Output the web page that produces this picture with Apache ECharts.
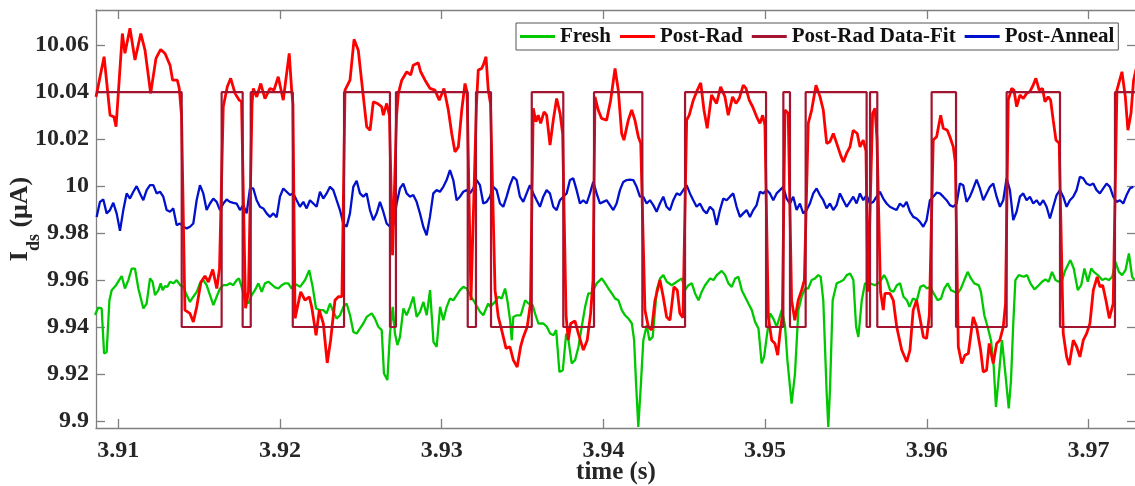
<!DOCTYPE html>
<html>
<head>
<meta charset="utf-8">
<script src="https://cdn.jsdelivr.net/npm/echarts@6/dist/echarts.min.js"></script>
<style>
  html, body { margin: 0; padding: 0; background: #fff; }
  #chart { width: 1135px; height: 486px; }
</style>
</head>
<body>
<div id="chart"></div>
<script>
// tick labels
const xTicks = [3.91, 3.92, 3.93, 3.94, 3.95, 3.96, 3.97];
const yTicks = [9.9, 9.92, 9.94, 9.96, 9.98, 10, 10.02, 10.04, 10.06];

// Post-Anneal: read every 0.000206 s from the picture
const annealStart = 3.90866;
const annealStep = 0.00020614;
const annealValues = [
  9.9869, 9.9933, 9.9943, 9.9884, 9.9898, 9.9929, 9.9884, 9.981, 9.9898, 9.9969,
  9.9947, 9.9976, 10.0, 9.9969, 9.994, 9.9983, 10.0004, 10.0004, 9.9969, 9.9976,
  9.9955, 9.9898, 9.9891, 9.9905, 9.9834, 9.9841, 9.9827, 9.982, 9.9827, 9.9841,
  9.994, 10.0004, 9.9969, 9.9898, 9.9926, 9.9947, 9.9933, 9.9898, 9.9926, 9.9943,
  9.9933, 9.9929, 9.9926, 9.9898, 9.9919, 9.9884, 9.999, 9.999, 9.994, 9.9912,
  9.9905, 9.9884, 9.9869, 9.9884, 9.9867, 9.9955, 9.999, 9.9976, 9.9962, 9.9969,
  9.994, 9.9912, 9.9933, 9.9905, 9.994, 9.9926, 9.9912, 9.9976, 9.9947, 9.9969,
  9.9997, 9.9983, 9.994, 9.9898, 9.9841, 9.9827, 9.9884, 9.9997, 10.0023, 9.9969,
  9.9955, 9.9969, 9.9898, 9.9855, 9.9884, 9.9933, 9.9891, 9.9841, 9.9827, 9.9834,
  9.9926, 9.999, 10.0011, 9.9969, 9.9955, 9.9962, 9.9933, 9.9884, 9.9827, 9.9791,
  9.9869, 9.9969, 9.9983, 9.9976, 9.9997, 10.0026, 10.0068, 10.0026, 9.994, 9.9955,
  9.9976, 9.9983, 9.9969, 9.999, 10.0026, 10.0004, 9.9926, 9.9933, 9.9955, 9.9997,
  9.9983, 9.9926, 9.9912, 9.9955, 10.0004, 10.004, 10.0026, 9.9955, 9.9933, 9.9969,
  10.0004, 9.9969, 9.994, 9.9912, 9.9955, 9.9983, 9.9969, 9.9912, 9.9898, 9.994,
  9.9955, 9.9969, 10.0026, 10.0033, 9.9983, 9.9926, 9.994, 9.9926, 9.9969, 10.0018,
  9.9969, 9.9926, 9.9933, 9.994, 9.9919, 9.9898, 9.9926, 9.9983, 10.0018, 10.0026,
  10.0028, 10.0026, 9.9997, 9.9955, 9.9955, 9.9926, 9.994, 9.9919, 9.9891, 9.9926,
  9.9955, 9.9912, 9.9898, 9.994, 9.9969, 9.9962, 9.9983, 10.0004, 9.9969, 9.994,
  9.9912, 9.9926, 9.9898, 9.9884, 9.9912, 9.9898, 9.9834, 9.9898, 9.9947, 9.994,
  9.9955, 9.9969, 9.9912, 9.9869, 9.9884, 9.9898, 9.9869, 9.9898, 9.9919, 9.9976,
  9.9969, 9.9983, 9.9969, 9.994, 9.9969, 9.9983, 9.9997, 9.9947, 9.9926, 9.9955,
  9.9898, 9.9926, 9.9884, 9.9898, 9.9926, 9.9969, 9.999, 9.9962, 9.994, 9.9905,
  9.9926, 9.9898, 9.9919, 9.9969, 9.994, 9.9912, 9.9933, 9.9955, 9.9926, 9.9969,
  9.994, 9.9962, 9.9926, 9.9933, 9.9955, 9.9976, 9.9947, 9.9926, 9.9912, 9.9905,
  9.9898, 9.9926, 9.9912, 9.9933, 9.9891, 9.9869, 9.9862, 9.9848, 9.9827, 9.9855,
  9.994, 9.9955, 9.9972, 9.9969, 9.9955, 9.994, 9.9919, 9.9912, 9.9926, 10.0011,
  10.0004, 9.9933, 9.9955, 9.999, 10.0028, 9.999, 9.994, 9.9969, 9.9997, 10.0011,
  9.9955, 9.9912, 9.994, 10.0033, 9.9983, 9.9855, 9.9891, 9.9955, 9.9969, 9.994,
  9.9955, 9.9926, 9.994, 9.9919, 9.994, 9.9912, 9.9862, 9.9912, 9.9962, 9.9983,
  9.9955, 9.9912, 9.994, 9.9955, 9.9983, 10.004, 10.0033, 10.0011, 10.0004, 10.0011,
  9.9983, 9.9969, 9.999, 10.0011, 9.9997, 9.9955, 9.9933, 9.994, 9.9926, 9.9962,
  9.999, 9.9997
];

// Fresh: [time, value]
const freshData = [
  [3.90856,9.9451],[3.90876,9.9483],[3.90897,9.9479],[3.90912,9.9287],[3.90928,9.9294],[3.90945,9.9514],
  [3.90959,9.9557],[3.90986,9.9578],[3.91021,9.9617],[3.91041,9.9564],[3.91062,9.96],[3.91083,9.9649],
  [3.91103,9.9649],[3.91124,9.9564],[3.91155,9.9479],[3.91175,9.95],[3.91196,9.9607],[3.91212,9.9593],
  [3.91227,9.9536],[3.91248,9.9557],[3.91262,9.9586],[3.91274,9.9557],[3.91289,9.9574],[3.91303,9.9571],
  [3.9132,9.9593],[3.9134,9.9586],[3.91361,9.96],[3.91382,9.9578],[3.91402,9.9571],[3.91423,9.9536],
  [3.91443,9.9507],[3.91464,9.9529],[3.91485,9.955],[3.91505,9.9586],[3.91526,9.96],[3.91546,9.9578],
  [3.91567,9.9536],[3.91588,9.9493],[3.91608,9.9529],[3.91629,9.9564],[3.91649,9.9578],[3.9167,9.9578],
  [3.91691,9.9586],[3.91711,9.9578],[3.91732,9.96],[3.91746,9.9607],[3.91763,9.9571],[3.91783,9.9514],
  [3.91804,9.95],[3.91825,9.9536],[3.91845,9.9557],[3.91866,9.9586],[3.91887,9.955],[3.91907,9.9586],
  [3.91928,9.9593],[3.91969,9.9569],[3.9199,9.9564],[3.9201,9.9578],[3.92031,9.9586],[3.92051,9.9586],
  [3.92072,9.9564],[3.92087,9.9586],[3.92124,9.9571],[3.92155,9.96],[3.92181,9.9642],[3.92202,9.9571],
  [3.92223,9.9479],[3.92247,9.9472],[3.92268,9.9472],[3.92288,9.9458],[3.92309,9.95],[3.9233,9.9465],
  [3.9235,9.9436],[3.92371,9.945],[3.92392,9.9486],[3.92412,9.95],[3.92433,9.945],[3.92454,9.9379],
  [3.92474,9.9372],[3.92495,9.9394],[3.92515,9.9415],[3.92536,9.9443],[3.92567,9.9458],[3.92587,9.9436],
  [3.92608,9.9401],[3.92629,9.9387],[3.92643,9.9202],[3.92664,9.9174],[3.9268,9.9372],[3.92697,9.9486],
  [3.92711,9.9372],[3.92726,9.9323],[3.92742,9.9358],[3.92763,9.9479],[3.92783,9.945],[3.92804,9.9486],
  [3.92825,9.9529],[3.92845,9.9443],[3.92866,9.9465],[3.92887,9.9507],[3.92907,9.945],[3.92928,9.9557],
  [3.92949,9.9337],[3.92969,9.9316],[3.9299,9.9486],[3.9301,9.9429],[3.93031,9.9486],[3.93051,9.9521],
  [3.93072,9.9514],[3.93093,9.9536],[3.93113,9.9557],[3.93134,9.9571],[3.93155,9.9564],[3.93175,9.9536],
  [3.93196,9.9514],[3.93237,9.9465],[3.93257,9.945],[3.93288,9.95],[3.93299,9.9486],[3.9333,9.9507],
  [3.93351,9.9529],[3.93371,9.9521],[3.93392,9.9564],[3.93406,9.9514],[3.93423,9.9429],[3.93433,9.9344],
  [3.93443,9.9443],[3.93464,9.945],[3.93489,9.945],[3.93516,9.9514],[3.93536,9.95],[3.93563,9.9493],
  [3.93577,9.9458],[3.93598,9.9415],[3.93629,9.9415],[3.9365,9.9401],[3.93671,9.9372],[3.93691,9.9365],
  [3.93708,9.9387],[3.93728,9.9209],[3.93749,9.9216],[3.9377,9.9372],[3.93784,9.9344],[3.93804,9.9245],
  [3.93825,9.9259],[3.93846,9.9316],[3.93866,9.9401],[3.93887,9.9486],[3.93907,9.9543],[3.93928,9.9543],
  [3.93959,9.9586],[3.9399,9.9607],[3.94011,9.9586],[3.94031,9.9564],[3.94052,9.9543],[3.94073,9.9521],
  [3.94093,9.9514],[3.94114,9.9472],[3.94134,9.945],[3.94155,9.9436],[3.94176,9.9415],[3.9419,9.9344],
  [3.94202,9.916],[3.94216,9.8975],[3.94231,9.9145],[3.94247,9.9344],[3.94268,9.9408],[3.94285,9.9344],
  [3.94305,9.9358],[3.9433,9.9557],[3.94351,9.9607],[3.94371,9.9621],[3.94392,9.9593],[3.94423,9.9578],
  [3.94454,9.9593],[3.94485,9.9607],[3.94505,9.9557],[3.94526,9.9578],[3.94547,9.9586],[3.94567,9.9543],
  [3.94588,9.9514],[3.94608,9.955],[3.94629,9.9578],[3.9466,9.9607],[3.94681,9.96],[3.94701,9.9621],
  [3.94732,9.9639],[3.94753,9.9621],[3.94773,9.9586],[3.94794,9.9571],[3.94815,9.9607],[3.94835,9.9614],
  [3.94856,9.9557],[3.94876,9.9529],[3.94897,9.95],[3.94918,9.9472],[3.94938,9.9422],[3.94959,9.9394],
  [3.94979,9.9245],[3.94994,9.9273],[3.9501,9.9358],[3.95031,9.9458],[3.95051,9.9436],[3.95072,9.9401],
  [3.95103,9.9472],[3.95123,9.9408],[3.95138,9.9259],[3.95164,9.9074],[3.95185,9.9202],[3.95206,9.9472],
  [3.95226,9.9529],[3.95247,9.9564],[3.95267,9.9564],[3.95288,9.96],[3.95309,9.9607],[3.95329,9.9621],
  [3.95344,9.9614],[3.9536,9.9514],[3.95381,9.9117],[3.95391,9.8975],[3.95402,9.9145],[3.95418,9.9514],
  [3.95443,9.9586],[3.95464,9.9593],[3.95484,9.96],[3.95505,9.9621],[3.95526,9.9628],[3.95546,9.96],
  [3.95563,9.9401],[3.95577,9.9358],[3.95598,9.9514],[3.95618,9.9586],[3.95649,9.9586],[3.9568,9.9578],
  [3.95711,9.9593],[3.95736,9.9621],[3.95753,9.96],[3.95773,9.9557],[3.95794,9.955],[3.95815,9.9578],
  [3.95835,9.9586],[3.95856,9.9529],[3.95877,9.9514],[3.95893,9.9486],[3.95914,9.9521],[3.95939,9.9514],
  [3.9596,9.9571],[3.95981,9.9578],[3.96001,9.9564],[3.96022,9.9571],[3.96043,9.9543],[3.96067,9.9514],
  [3.96088,9.9521],[3.96108,9.9564],[3.96129,9.9586],[3.9615,9.9557],[3.9617,9.955],[3.96191,9.9543],
  [3.96211,9.9564],[3.96232,9.96],[3.96253,9.9635],[3.96273,9.9607],[3.96294,9.9586],[3.96321,9.9578],
  [3.96335,9.955],[3.96356,9.945],[3.96376,9.9401],[3.96397,9.9344],[3.96414,9.9231],[3.96428,9.906],
  [3.96445,9.9188],[3.96465,9.9344],[3.96486,9.9202],[3.96507,9.9053],[3.96521,9.9174],[3.96534,9.9401],
  [3.96548,9.96],[3.96569,9.9621],[3.966,9.9614],[3.9662,9.9621],[3.96641,9.9586],[3.96666,9.956],
  [3.96693,9.9578],[3.96713,9.9593],[3.96734,9.9603],[3.96754,9.9593],[3.96775,9.9635],[3.96796,9.96],
  [3.96816,9.9593],[3.96837,9.96],[3.96857,9.9642],[3.96888,9.9685],[3.96909,9.9649],[3.96934,9.9557],
  [3.96955,9.9578],[3.96975,9.9649],[3.96996,9.9593],[3.97017,9.9649],[3.97033,9.9635],[3.97058,9.9621],
  [3.97085,9.96],[3.97105,9.9607],[3.97126,9.96],[3.97147,9.9614],[3.97167,9.9677],[3.97188,9.9635],
  [3.97208,9.9621],[3.97229,9.9642],[3.9725,9.9713],[3.9727,9.9614],[3.97285,9.96]
];

// Post-Rad: [time, value]
const postRadData = [
  [3.90862,10.038],[3.90912,10.0551],[3.90949,10.0302],[3.90973,10.0295],[3.90986,10.0253],[3.91025,10.065],
  [3.91041,10.0566],[3.91072,10.0672],[3.91103,10.0537],[3.91139,10.065],[3.91165,10.0579],[3.912,10.0395],
  [3.91233,10.0544],[3.91262,10.0582],[3.91289,10.0565],[3.9132,10.0515],[3.91336,10.0451],[3.91365,10.0451],
  [3.91377,10.0416],[3.91391,10.03],[3.91412,9.9472],[3.91443,9.9458],[3.91464,9.9422],[3.91485,9.9486],
  [3.91511,9.9592],[3.91536,9.9617],[3.91557,9.9592],[3.91584,9.9645],[3.91609,9.9564],[3.91626,9.965],
  [3.91649,10.0338],[3.91674,10.0423],[3.91695,10.0459],[3.91722,10.0395],[3.91748,10.0366],[3.91762,10.036],
  [3.91787,9.948],[3.91805,9.955],[3.91827,10.035],[3.91835,10.0416],[3.91856,10.038],[3.91881,10.0437],
  [3.91907,10.0373],[3.91938,10.0416],[3.91963,10.0409],[3.91989,10.0466],[3.9202,10.0366],[3.92057,10.0565],
  [3.92072,10.0409],[3.9208,10.035],[3.92093,9.9437],[3.92128,9.955],[3.92155,9.9514],[3.92181,9.9529],
  [3.92196,9.9486],[3.92223,9.9365],[3.92243,9.9472],[3.92268,9.9415],[3.92292,9.9247],[3.92313,9.9344],
  [3.9234,9.9514],[3.92361,9.9529],[3.92383,9.953],[3.92402,10.0409],[3.92433,10.0451],[3.92458,10.0625],
  [3.92484,10.0579],[3.92511,10.0409],[3.92536,10.0253],[3.92557,10.0238],[3.92577,10.0359],[3.92602,10.0352],
  [3.92629,10.0338],[3.92639,10.0302],[3.9266,10.0352],[3.92677,10.03],[3.92696,9.9706],[3.92721,10.03],
  [3.92732,10.0395],[3.92753,10.0451],[3.92784,10.0487],[3.92808,10.0473],[3.92824,10.0515],[3.92855,10.0525],
  [3.9287,10.0487],[3.92897,10.0451],[3.92928,10.0416],[3.92958,10.0409],[3.92985,10.0366],[3.93014,10.0416],
  [3.93041,10.0324],[3.93062,10.0224],[3.93082,10.0146],[3.93103,10.0167],[3.93124,10.0324],[3.93144,10.0437],
  [3.93157,10.04],[3.93181,9.9514],[3.93215,10.035],[3.93226,10.0494],[3.93247,10.0501],[3.93257,10.0515],
  [3.93274,10.0551],[3.93288,10.0409],[3.93302,10.035],[3.9333,9.9557],[3.9335,9.9443],[3.93371,9.9387],
  [3.93398,9.9309],[3.93422,9.9316],[3.93443,9.9259],[3.93467,9.923],[3.93488,9.9316],[3.93505,9.9358],
  [3.93529,9.9401],[3.93549,9.95],[3.93566,10.0331],[3.93583,10.0274],[3.93597,10.0302],[3.93612,10.0267],
  [3.93633,10.0316],[3.93649,10.0302],[3.9367,10.0175],[3.9369,10.0281],[3.93711,10.0373],[3.93732,10.031],
  [3.93748,10.0224],[3.93769,9.945],[3.93783,9.9344],[3.93798,9.9415],[3.93824,9.9426],[3.93845,9.9373],
  [3.93876,9.9302],[3.939,9.9344],[3.93921,9.9458],[3.93936,9.96],[3.93948,10.038],[3.93968,10.0324],
  [3.93989,10.0288],[3.9402,10.0281],[3.94045,10.0366],[3.94072,10.0501],[3.94092,10.0409],[3.94113,10.0224],
  [3.94127,10.0196],[3.94154,10.0281],[3.94175,10.0324],[3.94195,10.0281],[3.94216,10.021],[3.94231,10.0182],
  [3.94257,9.9472],[3.94278,9.9401],[3.94298,9.9387],[3.94319,9.9514],[3.9435,9.96],[3.9437,9.9529],
  [3.94391,9.9443],[3.94412,9.9429],[3.94436,9.9571],[3.94457,9.9557],[3.94473,9.9458],[3.94492,9.944],
  [3.94515,10.0281],[3.94531,10.0302],[3.94556,10.0366],[3.94581,10.0409],[3.94602,10.044],[3.94622,10.0324],
  [3.94642,10.0246],[3.94669,10.0388],[3.947,10.0352],[3.94725,10.0423],[3.94752,10.038],[3.94772,10.0302],
  [3.94799,10.038],[3.9482,10.0352],[3.9484,10.0373],[3.94865,10.043],[3.94882,10.0416],[3.94902,10.0366],
  [3.94923,10.0338],[3.94948,10.0295],[3.94968,10.0267],[3.94985,10.0302],[3.94999,10.026],[3.9502,9.9443],
  [3.95041,9.9344],[3.95061,9.933],[3.95078,9.928],[3.95092,9.9373],[3.95107,9.945],[3.95123,10.0324],
  [3.95143,10.031],[3.95164,9.9514],[3.95184,9.9429],[3.95205,9.9514],[3.95226,9.9557],[3.95243,9.96],
  [3.95267,10.0267],[3.95288,10.0324],[3.95315,10.043],[3.9534,10.038],[3.9536,10.0324],[3.95381,10.0182],
  [3.95401,10.0189],[3.95422,10.0224],[3.95443,10.0182],[3.95467,10.0132],[3.95484,10.0103],[3.95504,10.0139],
  [3.95525,10.0167],[3.95545,10.0238],[3.9557,10.0224],[3.95587,10.0167],[3.95607,10.0196],[3.95624,10.015],
  [3.95636,9.955],[3.95665,10.031],[3.9568,10.0331],[3.95692,10.02],[3.95714,9.955],[3.95731,9.9472],
  [3.95741,9.9543],[3.95772,9.9543],[3.95793,9.9514],[3.95814,9.9401],[3.95845,9.9302],[3.95876,9.9252],
  [3.95896,9.9302],[3.95916,9.9472],[3.95937,9.9514],[3.95958,9.9437],[3.95979,9.9358],[3.95999,9.9351],
  [3.96016,9.945],[3.9604,10.0196],[3.96061,10.021],[3.96086,10.0302],[3.96102,10.0246],[3.96127,10.0238],
  [3.96143,10.021],[3.96164,10.0167],[3.96177,10.01],[3.96195,9.9316],[3.96216,9.9245],[3.96236,9.928],
  [3.96257,9.9287],[3.96287,9.9443],[3.96308,9.9401],[3.96333,9.9302],[3.96349,9.9209],[3.9637,9.9216],
  [3.96386,9.933],[3.96411,9.9245],[3.96432,9.933],[3.96452,9.9344],[3.96473,9.9401],[3.96487,9.95],
  [3.96504,10.0366],[3.96525,10.0416],[3.96539,10.0409],[3.96556,10.0338],[3.96576,10.0388],[3.96597,10.0373],
  [3.96618,10.0395],[3.96638,10.0402],[3.96658,10.043],[3.96675,10.0459],[3.96695,10.0409],[3.96716,10.0416],
  [3.96731,10.0359],[3.96751,10.038],[3.96766,10.0366],[3.96782,10.0281],[3.96799,10.0196],[3.96819,10.0182],
  [3.96844,9.9373],[3.96865,9.9273],[3.96881,9.9238],[3.96906,9.9344],[3.96927,9.9316],[3.96947,9.9273],
  [3.96968,9.9344],[3.96989,9.9373],[3.97009,9.9415],[3.9703,9.9557],[3.97054,9.9614],[3.97071,9.9571],
  [3.97088,9.9578],[3.97108,9.9514],[3.97129,9.9437],[3.97153,9.95],[3.97176,10.0409],[3.97207,10.0487],
  [3.97228,10.038],[3.97244,10.0238],[3.97263,10.031],[3.97279,10.0451],[3.97295,10.05]
];

// Post-Rad Data-Fit: switching times and the level held after each
const fitTimes = [
  3.90862, 3.91392, 3.91639, 3.91769, 3.91819, 3.92079, 3.92396, 3.9268, 3.92717, 3.93161,
  3.93212, 3.93305, 3.93557, 3.93752, 3.93942, 3.94241, 3.94505, 3.95006, 3.95113, 3.95154,
  3.95251, 3.95628, 3.95649, 3.95694, 3.9603, 3.96181, 3.96494, 3.96824, 3.97164, 3.97294
];
const fitLevels = [
  10.04, 9.94, 10.04, 9.94, 10.04, 9.94, 10.04, 9.94, 10.04, 9.94,
  10.04, 9.94, 10.04, 9.94, 10.04, 9.94, 10.04, 9.94, 10.04, 9.94,
  10.04, 9.94, 10.04, 9.94, 10.04, 9.94, 10.04, 9.94, 10.04, 10.04
];

const FONT = 'Liberation Serif';
const AXIS_COLOR = '#808080';
const TEXT_COLOR = '#262626';

const annealData = annealValues.map((v, i) => [annealStart + i * annealStep, v]);
const fitData = fitTimes.map((t, i) => [t, fitLevels[i]]);

const fmt = v => String(+(+v).toFixed(2));

const chart = echarts.init(document.getElementById('chart'));

const option = {
  animation: false,
  backgroundColor: '#fff',
  grid: { left: 96, top: 10, right: -1, bottom: 58, outerBoundsMode: 'none', containLabel: false },
  legend: {
    data: ['Fresh', 'Post-Rad', 'Post-Rad Data-Fit', 'Post-Anneal'],
    left: 516, top: 23,
    padding: [3, 4, 3, 4],
    itemGap: 9,
    itemWidth: 35, itemHeight: 3,
    icon: 'rect',
    backgroundColor: '#fff',
    borderColor: '#555',
    borderWidth: 1,
    textStyle: { fontFamily: FONT, fontWeight: 'bold', fontSize: 21, color: '#111' }
  },
  xAxis: [{
    type: 'value',
    min: 3.90862, max: 3.97294,
    name: 'time (s)',
    nameLocation: 'middle',
    nameGap: 32,
    nameMoveOverlap: false,
    nameTextStyle: { fontFamily: FONT, fontWeight: 'bold', fontSize: 25, color: TEXT_COLOR },
    axisLine: { lineStyle: { color: AXIS_COLOR, width: 1.3 } },
    axisTick: { inside: true, length: 9, customValues: xTicks, lineStyle: { color: AXIS_COLOR, width: 1.3 } },
    axisLabel: { customValues: xTicks, formatter: fmt, margin: 11, fontFamily: FONT, fontWeight: 'bold', fontSize: 24, color: TEXT_COLOR },
    splitLine: { show: false }
  }, {
    type: 'value',
    position: 'top',
    min: 3.90862, max: 3.97294,
    axisLine: { lineStyle: { color: AXIS_COLOR, width: 1.3 } },
    axisTick: { inside: true, length: 9, customValues: xTicks, lineStyle: { color: AXIS_COLOR, width: 1.3 } },
    axisLabel: { show: false },
    splitLine: { show: false }
  }],
  yAxis: [{
    type: 'value',
    min: 9.897, max: 10.075,
    name: '{m|I}{s|ds}{m| (μA)}',
    nameLocation: 'middle',
    nameRotate: 90,
    nameGap: 53,
    nameMoveOverlap: false,
    nameTextStyle: {
      rich: {
        m: { fontFamily: FONT, fontWeight: 'bold', fontSize: 26, color: TEXT_COLOR, lineHeight: 36, verticalAlign: 'top' },
        s: { fontFamily: FONT, fontWeight: 'bold', fontSize: 18, color: TEXT_COLOR, lineHeight: 36, verticalAlign: 'bottom' }
      }
    },
    axisLine: { lineStyle: { color: AXIS_COLOR, width: 1.3 } },
    axisTick: { inside: true, length: 9, customValues: yTicks, lineStyle: { color: AXIS_COLOR, width: 1.3 } },
    axisLabel: { customValues: yTicks, formatter: fmt, margin: 7, fontFamily: FONT, fontWeight: 'bold', fontSize: 24, color: TEXT_COLOR },
    splitLine: { show: false }
  }, {
    type: 'value',
    position: 'right',
    min: 9.897, max: 10.075,
    axisLine: { show: true, lineStyle: { color: AXIS_COLOR, width: 1.3 } },
    axisTick: { show: true, inside: true, length: 9, customValues: yTicks, lineStyle: { color: AXIS_COLOR, width: 1.3 } },
    axisLabel: { show: false },
    splitLine: { show: false }
  }],
  series: [
    { name: 'Fresh', type: 'line', data: freshData, showSymbol: false, color: '#00c800', lineStyle: { width: 2.3 } },
    { name: 'Post-Anneal', type: 'line', data: annealData, showSymbol: false, color: '#0010cc', lineStyle: { width: 2.3 } },
    { name: 'Post-Rad', type: 'line', data: postRadData, showSymbol: false, color: '#ff0000', lineStyle: { width: 2.8 } },
    { name: 'Post-Rad Data-Fit', type: 'line', data: fitData, step: 'end', showSymbol: false, color: '#a2142f', lineStyle: { width: 2.2 } }
  ]
};

chart.setOption(option);
</script>
</body>
</html>
